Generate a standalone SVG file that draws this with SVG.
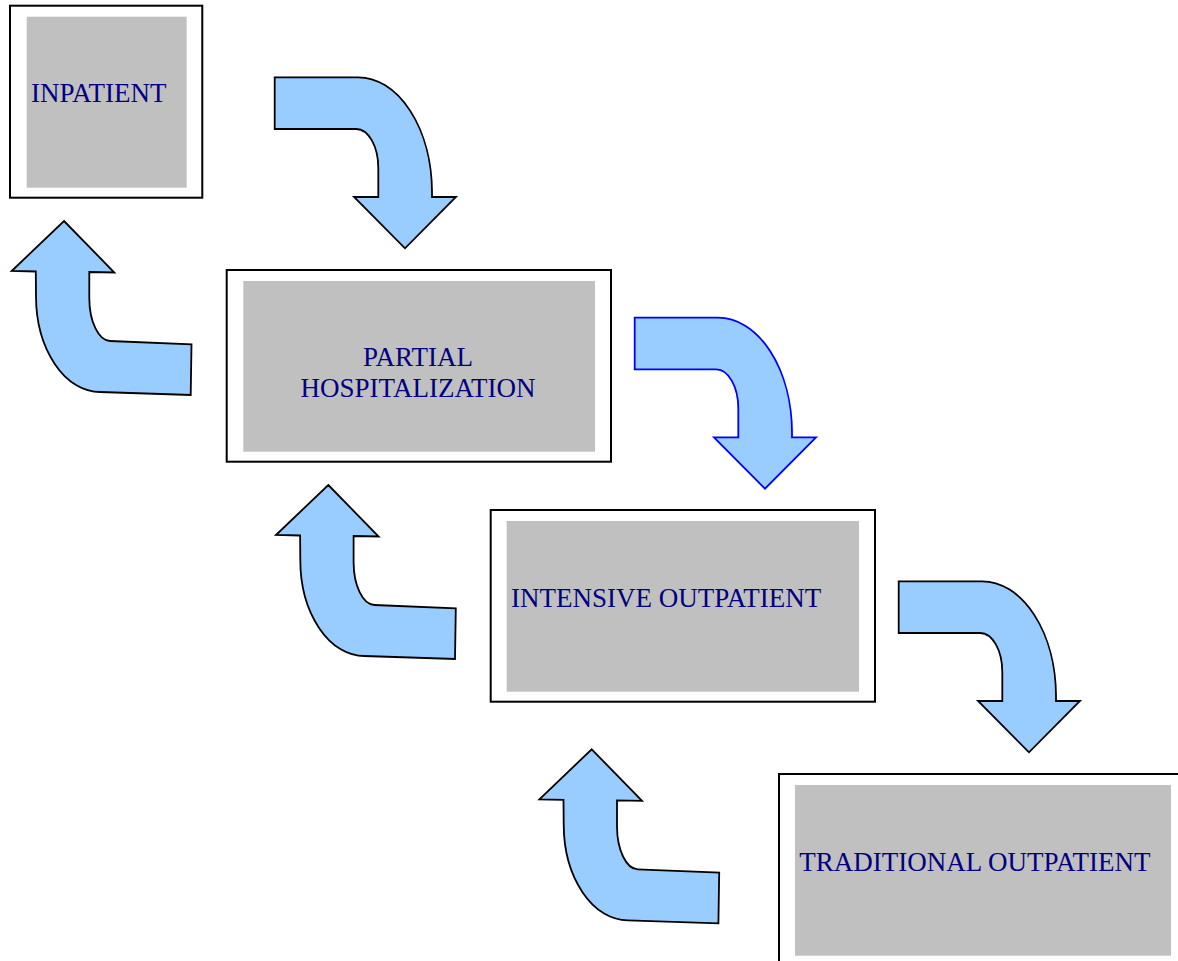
<svg xmlns="http://www.w3.org/2000/svg" width="1178" height="961" viewBox="0 0 1178 961">
<style>
.outer{fill:#fff;stroke:#000;stroke-width:2}
.inner{fill:#c0c0c0;stroke:none}
.lbl{font-family:"Liberation Serif","Times New Roman",serif;font-size:27px;fill:#000080}
.arr{fill:#99ccff;stroke:#000;stroke-width:1.8;stroke-linejoin:miter}
.arrb{stroke:#0000ff}
</style>
<defs>
<path id="down" d="M274.7,77.3 L358,77.3 A74,115 0 0 1 432,192 L432,197 L456,197 L405,248.3 L354,197 L378.3,197 L378.3,168 A22,39 0 0 0 356.3,129 L274.7,129 Z"/>
<path id="up" d="M64,221 L114.3,272.5 L89.3,272 L89.3,298 A21,43 0 0 0 110,341 L191.5,344.3 L190.7,395 L100,392 A64,96 0 0 1 36,296 L35.8,271.5 L11.7,271 Z"/>
</defs>
<g id="connectors">
<use href="#down" class="arr"/>
<use href="#down" class="arr arrb" transform="translate(360,240.4)"/>
<use href="#down" class="arr" transform="translate(624,504)"/>
<use href="#up" class="arr"/>
<use href="#up" class="arr" transform="translate(264.3,264)"/>
<use href="#up" class="arr" transform="translate(527.7,528.3)"/>
</g>
<g id="inpatient">
<rect class="outer" x="10" y="5.7" width="192.3" height="192"/>
<rect class="inner" x="26.7" y="16.7" width="160" height="171"/>
<text class="lbl" x="31" y="101.7">INPATIENT</text>
</g>
<g id="partial">
<rect class="outer" x="226.7" y="270" width="384.3" height="191.7"/>
<rect class="inner" x="243.3" y="281" width="351.7" height="170.7"/>
<text class="lbl" x="418" y="366" text-anchor="middle">PARTIAL</text>
<text class="lbl" x="418" y="396.7" text-anchor="middle">HOSPITALIZATION</text>
</g>
<g id="intensive">
<rect class="outer" x="490.7" y="510" width="384.3" height="191.7"/>
<rect class="inner" x="506.7" y="521" width="352.3" height="170.7"/>
<text class="lbl" x="511" y="606.7">INTENSIVE OUTPATIENT</text>
</g>
<g id="traditional">
<rect class="outer" x="779" y="774" width="420" height="200"/>
<rect class="inner" x="795" y="785" width="376" height="170.7"/>
<text class="lbl" x="799.3" y="870.7">TRADITIONAL OUTPATIENT</text>
</g>
</svg>
